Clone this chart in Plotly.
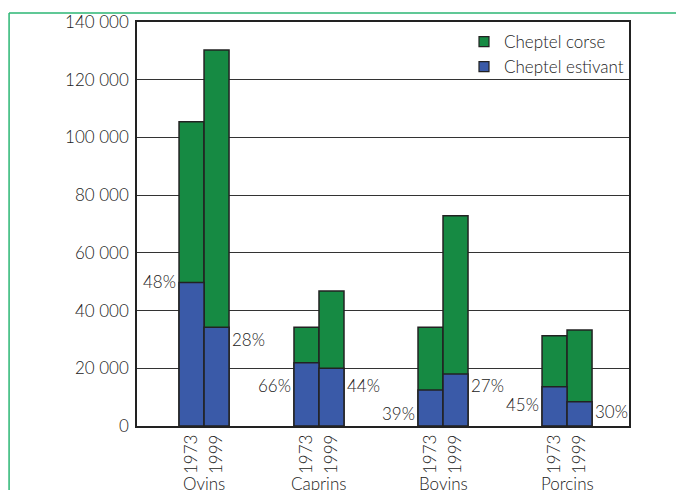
import plotly.graph_objects as go

# ---- data ----
groups = ["Ovins", "Caprins", "Bovins", "Porcins"]
years = ["1973", "1999"]
cheptel_corse = [105400, 130300, 34200, 46800, 34200, 72900, 31300, 33300]   # total bar height
cheptel_estivant = [49700, 34200, 21900, 20000, 12500, 18000, 13600, 8400]
pct_labels = ["48%", "28%", "66%", "44%", "39%", "27%", "45%", "30%"]
y_ticks = [0, 20000, 40000, 60000, 80000, 100000, 120000, 140000]
y_ticktext = ["0", "20 000", "40 000", "60 000", "80 000", "100 000", "120 000", "140 000"]

# ---- layout helpers (positions, not data) ----
group_centers = [0.0, 0.95, 1.975, 3.0]
bar_w = 0.2066
xs = []
for gc in group_centers:
    xs += [gc - bar_w / 2, gc + bar_w / 2]
bar_labels = [y for _ in groups for y in years]
label_y = [50000, 30100, 13900, 13900, 4500, 13900, 7600, 4900]

FONT = "Lato"
FS = 17
FW = 300
TXT = "#222222"
GREEN = "#168a43"
BLUE = "#3a5aa8"
EDGE = "#222222"

def f(size=FS):
    return dict(family=FONT, size=size, color=TXT, weight=FW)

fig = go.Figure()
fig.add_trace(go.Bar(
    x=xs, y=cheptel_corse, width=bar_w, name="Cheptel corse", showlegend=False,
    marker=dict(color=GREEN, line=dict(color=EDGE, width=1.5)),
))
fig.add_trace(go.Bar(
    x=xs, y=cheptel_estivant, width=bar_w, name="Cheptel estivant", showlegend=False,
    marker=dict(color=BLUE, line=dict(color=EDGE, width=1.5)),
))
# legend entries (small square swatches)
fig.add_trace(go.Scatter(x=[None], y=[None], mode="markers", name="Cheptel corse",
                         marker=dict(symbol="square", size=10, color=GREEN,
                                     line=dict(color=EDGE, width=1.2))))
fig.add_trace(go.Scatter(x=[None], y=[None], mode="markers", name="Cheptel estivant",
                         marker=dict(symbol="square", size=10, color=BLUE,
                                     line=dict(color=EDGE, width=1.2))))

annotations = []
for i, txt in enumerate(pct_labels):
    if i % 2 == 0:
        annotations.append(dict(x=xs[i] - bar_w / 2, y=label_y[i], xref="x", yref="y",
                                text=txt, showarrow=False, xanchor="right", yanchor="middle",
                                xshift=-1, font=f()))
    else:
        annotations.append(dict(x=xs[i] + bar_w / 2, y=label_y[i], xref="x", yref="y",
                                text=txt, showarrow=False, xanchor="left", yanchor="middle",
                                xshift=1, font=f()))
for g, gc in zip(groups, group_centers):
    annotations.append(dict(x=gc, y=-0.112, xref="x", yref="paper", text=g, showarrow=False,
                            xanchor="center", yanchor="top", font=f()))

fig.update_layout(
    width=676, height=490,
    margin=dict(l=137, r=47, t=22, b=64),
    paper_bgcolor="white", plot_bgcolor="white",
    barmode="overlay",
    showlegend=True,
    legend=dict(x=1.0, y=0.995, xanchor="right", yanchor="top",
                bgcolor="rgba(0,0,0,0)", traceorder="normal",
                font=f(), itemwidth=30, tracegroupgap=0),
    xaxis=dict(range=[-0.554, 3.512], tickmode="array", tickvals=xs, ticktext=bar_labels,
               tickangle=-90, showgrid=False, zeroline=False,
               showline=True, linecolor=EDGE, linewidth=1.5, mirror=True,
               ticks="", ticklen=0, tickfont=f()),
    yaxis=dict(range=[0, 140000], tickmode="array", tickvals=y_ticks, ticktext=y_ticktext,
               showgrid=True, gridcolor="#333333", gridwidth=1, zeroline=False,
               showline=True, linecolor=EDGE, linewidth=1.5, mirror=True,
               ticks="", ticklabelstandoff=3, tickfont=f()),
    annotations=annotations,
    shapes=[
        dict(type="line", xref="paper", yref="paper", x0=-0.260, x1=1.3, y0=1.0223, y1=1.0223,
             line=dict(color="#2bb673", width=1.5)),
        dict(type="line", xref="paper", yref="paper", x0=-0.260, x1=-0.260, y0=1.0223, y1=-0.3,
             line=dict(color="#2bb673", width=1.5)),
    ],
)

fig.write_html("out.html")
